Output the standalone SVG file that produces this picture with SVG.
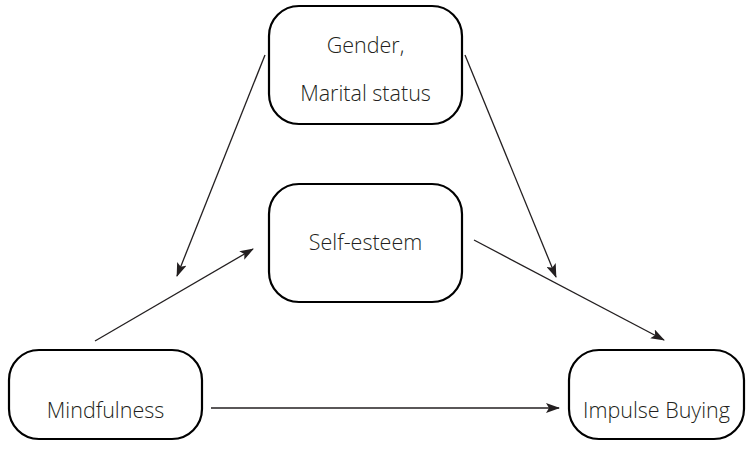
<svg xmlns="http://www.w3.org/2000/svg" width="753" height="470" viewBox="0 0 753 470">
<style>
.box{fill:#fff;stroke:#000;stroke-width:2.2}
.lbl{font-family:"Open Sans",sans-serif;font-weight:300;font-size:21.5px;fill:#231f20;text-anchor:middle}
.con{stroke:#231f20;stroke-width:1.3;fill:none;marker-end:url(#ah)}
</style>
<defs>
<marker id="ah" viewBox="0 0 14 10" refX="13" refY="5" markerWidth="14" markerHeight="10" markerUnits="userSpaceOnUse" orient="auto">
<path d="M0,0 L14,5 L0,10 L3,5 Z" fill="#231f20"/>
</marker>
</defs>
<g id="connectors">
<line class="con" x1="265" y1="55" x2="177" y2="276"/>
<line class="con" x1="95" y1="341" x2="253" y2="249"/>
<line class="con" x1="465" y1="55" x2="556" y2="277"/>
<line class="con" x1="474" y1="240" x2="664" y2="340"/>
<line class="con" x1="211" y1="408" x2="559" y2="408"/>
</g>
<g id="gender">
<rect class="box" x="269" y="6" width="193" height="118" rx="30"/>
<text class="lbl" x="365.5" y="53">Gender,</text>
<text class="lbl" x="365.5" y="101">Marital status</text>
</g>
<g id="selfesteem">
<rect class="box" x="269" y="184" width="193" height="118" rx="30"/>
<text class="lbl" x="365.5" y="250">Self-esteem</text>
</g>
<g id="mindfulness">
<rect class="box" x="9" y="350" width="193" height="89" rx="30"/>
<text class="lbl" x="105.5" y="418">Mindfulness</text>
</g>
<g id="impulse">
<rect class="box" x="569" y="350" width="175" height="89" rx="30"/>
<text class="lbl" x="656.5" y="418">Impulse Buying</text>
</g>
</svg>
